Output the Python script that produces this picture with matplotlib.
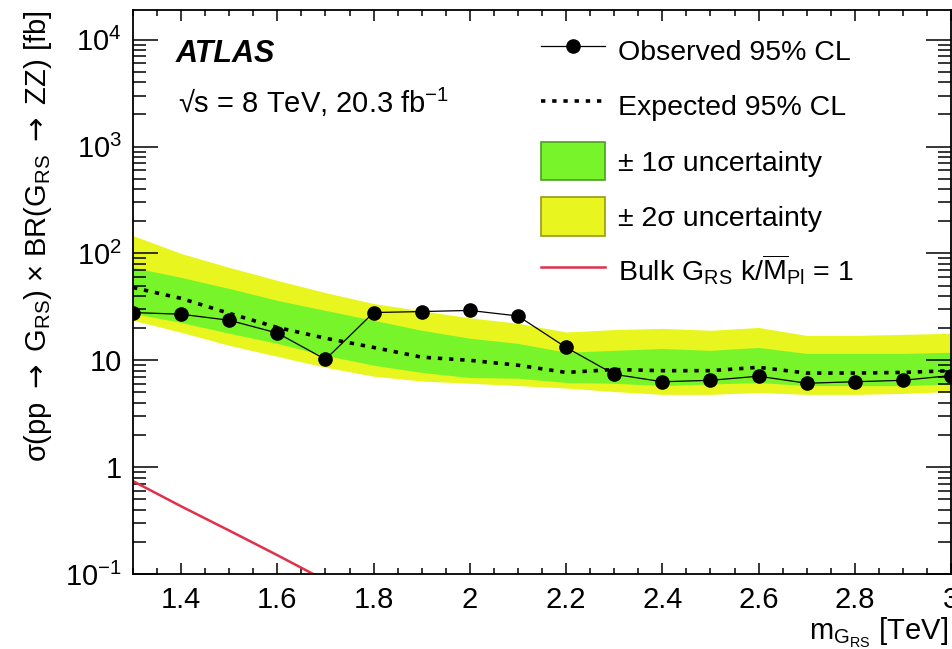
import numpy as np
import matplotlib
matplotlib.use('Agg')
import matplotlib.pyplot as plt
from matplotlib.lines import Line2D
from matplotlib.patches import Patch
from matplotlib.ticker import FixedLocator, MultipleLocator, LogLocator, NullFormatter

plt.rcParams['font.family'] = ['Liberation Sans', 'DejaVu Sans']
plt.rcParams['mathtext.fontset'] = 'custom'
plt.rcParams['mathtext.rm'] = 'Liberation Sans'
plt.rcParams['mathtext.it'] = 'Liberation Sans:italic'
plt.rcParams['mathtext.bf'] = 'Liberation Sans:bold'
plt.rcParams['mathtext.sf'] = 'DejaVu Sans'

# graviton mass points [TeV]
mass = [1.3, 1.4, 1.5, 1.6, 1.7, 1.8, 1.9, 2.0, 2.1, 2.2, 2.3, 2.4, 2.5, 2.6, 2.7, 2.8, 2.9, 3.0]

# 95% CL limits [fb]
observed = [28, 27, 23.7, 18, 10.2, 28, 28.6, 29.3, 26, 13.2, 7.4, 6.3, 6.5, 7.1, 6.1, 6.3, 6.5, 7.2]
expected = [48, 38, 27.5, 20.3, 16.1, 13.2, 10.7, 10, 9.0, 7.7, 8.2, 8.0, 8.0, 8.6, 7.6, 7.6, 7.7, 8.0]
plus1 = [74, 59.7, 47, 36.4, 29.3, 23.7, 19.1, 16.1, 14.4, 11.9, 12.4, 12.9, 12.4, 13.2, 11.6, 11.6, 11.6, 11.9]
minus1 = [27.5, 22.6, 17.9, 14.4, 11.1, 9.0, 7.7, 6.9, 6.8, 6.2, 6.1, 5.8, 6.0, 6.2, 5.8, 5.8, 5.8, 6.0]
plus2 = [147, 100, 74, 56, 43, 34, 29, 25, 22.2, 18.4, 19.4, 19.9, 19.1, 20.3, 17.1, 17.1, 17.5, 17.9]
minus2 = [23.7, 18.3, 13.8, 10.9, 8.6, 7.1, 6.4, 6.1, 5.8, 5.5, 5.1, 4.8, 4.8, 5.0, 4.8, 4.8, 4.9, 5.1]

# bulk RS graviton theory prediction, k/MPl = 1
theory_mass = [1.3, 1.4, 1.5, 1.6, 1.7, 1.8]
theory_xsec = [0.74, 0.43, 0.255, 0.15, 0.087, 0.05]

green = '#77f52a'
yellow = '#e9f51e'
arrow = r'$\mathsf{\rightarrow}$'

fig = plt.figure(figsize=(9.52, 6.49), dpi=100)
ax = fig.add_axes([133 / 952, 75 / 649, 819 / 952 - 0.001, 564 / 649])

ax.fill_between(mass, minus2, plus2, color=yellow, lw=0)
ax.fill_between(mass, minus1, plus1, color=green, lw=0)
ax.plot(mass, expected, color='black', ls=(0, (1.2, 1.9)), lw=2.6)
ax.plot(mass, observed, color='black', lw=0.9, marker='o', ms=9.5)
ax.plot(theory_mass, theory_xsec, color='#e0304a', lw=1.8)

ax.set_yscale('log')
ax.set_xlim(1.3, 3.0)
ax.set_ylim(0.1, 1.9e4)

ax.xaxis.set_major_locator(FixedLocator([1.4, 1.6, 1.8, 2.0, 2.2, 2.4, 2.6, 2.8, 3.0]))
ax.set_xticklabels(['1.4', '1.6', '1.8', '2', '2.2', '2.4', '2.6', '2.8', '3'])
ax.xaxis.set_minor_locator(MultipleLocator(0.05))
ax.yaxis.set_major_locator(FixedLocator([0.1, 1, 10, 100, 1000, 10000]))
ax.set_yticklabels([r'$10^{-1}$', '1', '10', r'$10^{2}$', r'$10^{3}$', r'$10^{4}$'])
ax.yaxis.set_minor_locator(LogLocator(base=10, subs=np.arange(2, 10)))
ax.yaxis.set_minor_formatter(NullFormatter())

ax.tick_params(which='both', direction='in', top=True, right=True, width=1.1, labelsize=21)
ax.tick_params(axis='x', which='major', length=8, pad=9)
ax.tick_params(axis='x', which='minor', length=4.3)
ax.tick_params(axis='y', which='major', length=18, pad=8)
ax.tick_params(axis='y', which='minor', length=9.4)
for s in ax.spines.values():
    s.set_linewidth(1.3)

ax.set_xlabel(r'm$_{\mathrm{G}_{\mathrm{RS}}}$ [TeV]', fontsize=21, loc='right', labelpad=2)
ax.xaxis.set_label_coords(0.997, -0.075)
ax.set_ylabel(r'σ(pp ' + arrow + r' G$_{\mathrm{RS}}$) × BR(G$_{\mathrm{RS}}$ ' + arrow + ' ZZ) [fb]',
              fontsize=21, loc='top', labelpad=8)

ax.text(0.052, 0.948, 'ATLAS', transform=ax.transAxes, fontsize=22, fontweight='bold',
        fontstyle='italic', va='top')
ax.text(0.055, 0.865, r'√s = 8 TeV, 20.3 fb$^{\mathrm{-1}}$', transform=ax.transAxes,
        fontsize=21, va='top')

handles = [
    Line2D([], [], color='black', lw=0.9, marker='o', ms=9.5),
    Line2D([], [], color='black', ls=(0, (1.2, 1.9)), lw=2.6),
    Patch(facecolor=green, edgecolor='#4f9e22', lw=1.2),
    Patch(facecolor=yellow, edgecolor='#9a9a12', lw=1.2),
    Line2D([], [], color='#e0304a', lw=1.8),
]
labels = [
    'Observed 95% CL',
    'Expected 95% CL',
    '± 1σ uncertainty',
    '± 2σ uncertainty',
    r'Bulk G$_{\mathrm{RS}}$ k/$\overline{\mathrm{M}}_{\mathrm{Pl}}$ = 1',
]
ax.legend(handles, labels, loc='upper left', bbox_to_anchor=(541 / 952, 1 - 32 / 649),
          bbox_transform=fig.transFigure, frameon=False, fontsize=20.5, borderpad=0,
          borderaxespad=0, handlelength=2.25, handleheight=1.68, handletextpad=0.45,
          labelspacing=0.6)

fig.savefig('out.png', dpi=100)
